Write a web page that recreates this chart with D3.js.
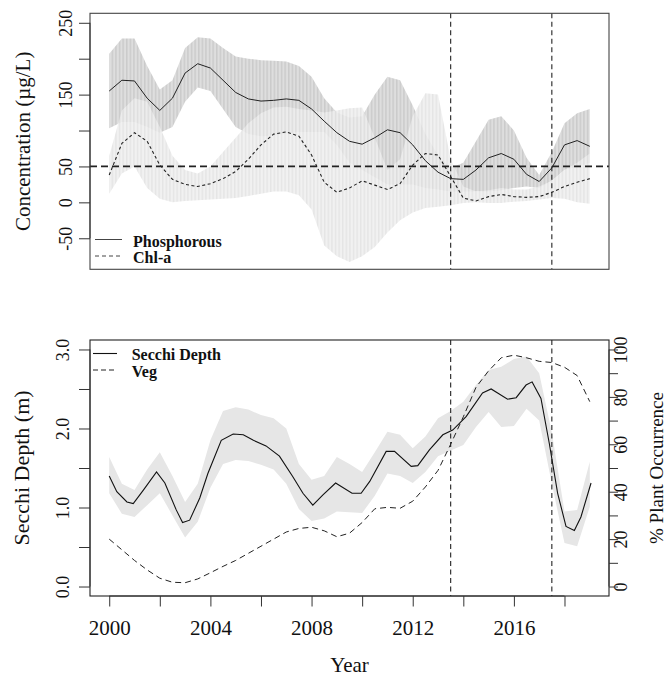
<!DOCTYPE html>
<html><head><meta charset="utf-8">
<script src="https://cdn.jsdelivr.net/npm/d3@7"></script>
<style>
body{margin:0;background:#fff}
svg{display:block}
text{font-family:"Liberation Serif","Times New Roman",serif;fill:#111}
</style>
</head><body>
<svg id="c" width="668" height="678"></svg>
<script>
// ---------- DATA ----------
const years = [2000,2000.5,2001,2001.5,2002,2002.5,2003,2003.5,2004,2004.5,2005,2005.5,2006,2006.5,2007,2007.5,2008,2008.5,2009,2009.5,2010,2010.5,2011,2011.5,2012,2012.5,2013,2013.5,2014,2014.5,2015,2015.5,2016,2016.5,2017,2017.5,2018,2018.5,2019];

const phos   = [155,170,169,145,128,145,180,193,187,170,153,144,141,142,144,142,130,113,97,85,81,90,101,97,80,58,42,33,32,45,62,68,60,39,29,48,80,86,78];
const phosLo = [103,112,112,105,97,105,140,160,155,130,105,95,92,93,96,98,98,98,80,55,45,35,25,25,25,20,18,15,15,15,15,17,20,22,20,30,45,50,55];
const phosHi = [207,228,228,190,157,170,215,230,228,215,203,200,198,197,196,190,175,145,125,118,120,150,175,170,135,95,66,48,55,85,115,120,100,62,38,70,110,124,130];

const chla   = [38,82,97,85,52,32,25,22,26,33,43,60,80,95,98,92,66,28,14,20,30,24,18,26,52,68,66,36,6,2,8,11,8,7,8,14,22,28,33];
const chlaLo = [12,40,50,20,5,0,2,3,4,5,6,9,12,15,15,10,-10,-60,-75,-83,-75,-62,-42,-25,-14,-8,-6,-4,-1,0,-1,-1,1,2,4,6,5,0,-2];
const chlaHi = [65,128,145,140,105,65,45,40,50,70,90,110,124,132,133,130,128,125,128,131,132,90,45,60,120,152,150,60,22,15,17,20,18,18,22,30,45,55,68];

const secchiYears = [2000,2000.3,2000.7,2000.95,2001.35,2001.87,2002.2,2002.65,2002.9,2003.18,2003.58,2003.9,2004.43,2004.9,2005.3,2005.7,2006.2,2006.73,2007.26,2007.66,2008.05,2008.45,2008.95,2009.6,2009.96,2010.3,2010.95,2011.28,2011.94,2012.2,2012.66,2013.19,2013.58,2014.11,2014.76,2015.1,2015.75,2016.09,2016.48,2016.72,2017.07,2017.4,2017.73,2018.06,2018.39,2018.65,2019.05];
const secchi = [1.40,1.20,1.07,1.05,1.22,1.45,1.31,0.97,0.81,0.84,1.12,1.43,1.85,1.93,1.92,1.85,1.78,1.65,1.39,1.18,1.03,1.16,1.31,1.18,1.18,1.33,1.71,1.71,1.52,1.53,1.73,1.92,1.98,2.15,2.45,2.50,2.37,2.39,2.55,2.59,2.38,1.81,1.18,0.76,0.71,0.88,1.31];
const secchiLo = [1.18,0.92,0.88,1.03,1.18,0.90,0.62,0.82,1.25,1.55,1.60,1.59,1.54,1.48,1.30,0.98,0.83,0.86,0.95,0.94,0.93,1.15,1.43,1.40,1.31,1.45,1.65,1.72,1.79,2.02,2.21,2.02,2.03,2.25,2.10,1.30,0.55,0.51,1.01];
const secchiHi = [1.64,1.30,1.22,1.48,1.70,1.40,1.07,1.30,1.85,2.22,2.27,2.24,2.17,2.13,2.00,1.55,1.35,1.40,1.64,1.55,1.45,1.70,1.96,1.92,1.75,1.90,2.13,2.22,2.34,2.55,2.74,2.78,2.88,2.91,2.70,1.95,0.95,0.97,1.58];

const veg = [20,15.5,11,7,3.5,1.8,1.6,3.2,5.8,8.5,11,14,17,20,23,24.5,25,23.5,21,22.5,27,32.8,33.4,33,36,42,49,60,71.6,84,91,96.5,97.6,96.5,95,94.5,92.5,89,78];

const xTicks = [2000,2002,2004,2006,2008,2010,2012,2014,2016,2018];
const xLabels = [2000,2004,2008,2012,2016];
const concTicks = [-50,0,50,100,150,200,250];
const concLabels = [-50,0,50,150,250];
const secchiTicks = [0,0.5,1,1.5,2,2.5,3];
const secchiLabels = [0,1,2,3];
const vegTicks = [0,10,20,30,40,50,60,70,80,90,100];
const vegLabels = [0,20,40,60,80,100];
const refLevel = 50;
const breakYears = [2013.5, 2017.5];

// ---------- LAYOUT ----------
const svg = d3.select("#c");
const L = 90, R = 609;
const top1 = 13.3, bot1 = 269.3;
const top2 = 340, bot2 = 596;

const x = d3.scaleLinear().domain([1999.24, 2019.76]).range([L, R]);
const yC = d3.scaleLinear().domain([-93.2, 263.2]).range([bot1, top1]);
const yS = d3.scaleLinear().domain([-0.12, 3.12]).range([bot2, top2]);
const yV = d3.scaleLinear().domain([-4, 104]).range([bot2, top2]);

const defs = svg.append("defs");
function stripe(id, bg, fg, w) {
  const p = defs.append("pattern").attr("id", id).attr("patternUnits", "userSpaceOnUse")
    .attr("width", 3.6).attr("height", 10);
  p.append("rect").attr("width", 3.6).attr("height", 10).attr("fill", bg);
  p.append("rect").attr("width", w).attr("height", 10).attr("fill", fg);
}
stripe("pP", "#dedede", "#cbcbcb", 1.5);
stripe("pC", "#efefef", "#e0e0e0", 1.4);

const rows = years.map((yr, i) => ({yr, i}));

// ---------- TOP PANEL ----------
const g1 = svg.append("g");
const areaP = d3.area().x(d => x(d.yr)).y0(d => yC(phosLo[d.i])).y1(d => yC(phosHi[d.i]));
const areaC = d3.area().x(d => x(d.yr)).y0(d => yC(chlaLo[d.i])).y1(d => yC(chlaHi[d.i]));
g1.append("path").attr("d", areaP(rows)).attr("fill", "url(#pP)");
g1.append("path").attr("d", areaC(rows)).attr("fill", "url(#pC)").attr("opacity", 0.85);

g1.append("line").attr("x1", L).attr("x2", R).attr("y1", yC(refLevel)).attr("y2", yC(refLevel))
  .attr("stroke", "#222").attr("stroke-width", 1.8).attr("stroke-dasharray", "7,4");

const lineP = d3.line().x(d => x(d.yr)).y(d => yC(phos[d.i]));
const lineC = d3.line().x(d => x(d.yr)).y(d => yC(chla[d.i]));
g1.append("path").attr("d", lineP(rows)).attr("fill", "none").attr("stroke", "#222").attr("stroke-width", 1);
g1.append("path").attr("d", lineC(rows)).attr("fill", "none").attr("stroke", "#222").attr("stroke-width", 1.1).attr("stroke-dasharray", "3,2.5");

breakYears.forEach(b => {
  g1.append("line").attr("x1", x(b)).attr("x2", x(b)).attr("y1", top1).attr("y2", bot1)
    .attr("stroke", "#222").attr("stroke-width", 1.1).attr("stroke-dasharray", "5,3.5");
});
g1.append("rect").attr("x", L).attr("y", top1).attr("width", R - L).attr("height", bot1 - top1)
  .attr("fill", "none").attr("stroke", "#444").attr("stroke-width", 1.1);

// left axis top
const axC = g1.append("g").attr("transform", `translate(${L},0)`)
  .call(d3.axisLeft(yC).tickValues(concTicks).tickSize(11).tickFormat(d => concLabels.includes(d) ? d : ""));
axC.select(".domain").remove();
axC.selectAll(".tick line").attr("stroke", "#333");
axC.selectAll(".tick text").attr("transform", "rotate(-90)").attr("x", 0).attr("y", -18.5).attr("dy", 0)
  .attr("text-anchor", "middle").style("font-size", "18px").style("font-family", "Liberation Serif").style("fill", "#111");
axC.append("line").attr("x1", 0).attr("x2", 0).attr("y1", yC(-50)).attr("y2", yC(250)).attr("stroke", "#333");

svg.append("text").attr("transform", `translate(30,${(top1 + bot1) / 2}) rotate(-90)`)
  .attr("text-anchor", "middle").style("font-size", "21px").text("Concentration (µg/L)");

// legend top
g1.append("line").attr("x1", 95).attr("x2", 122).attr("y1", 239.5).attr("y2", 239.5).attr("stroke", "#444").attr("stroke-width", 1);
g1.append("line").attr("x1", 95).attr("x2", 122).attr("y1", 256).attr("y2", 256).attr("stroke", "#444").attr("stroke-width", 1).attr("stroke-dasharray", "4,3");
g1.append("text").attr("x", 133).attr("y", 246.7).style("font-size", "16px").style("font-weight", "bold").text("Phosphorous");
g1.append("text").attr("x", 133).attr("y", 263.3).style("font-size", "16px").style("font-weight", "bold").text("Chl-a");

// ---------- BOTTOM PANEL ----------
const g2 = svg.append("g");
const areaS = d3.area().x(d => x(d.yr)).y0(d => yS(secchiLo[d.i])).y1(d => yS(secchiHi[d.i]));
g2.append("path").attr("d", areaS(rows)).attr("fill", "#e6e6e6");

const sRows = secchiYears.map((yr, i) => ({yr, v: secchi[i]}));
g2.append("path").attr("d", d3.line().x(d => x(d.yr)).y(d => yS(d.v))(sRows))
  .attr("fill", "none").attr("stroke", "#111").attr("stroke-width", 1.1);
g2.append("path").attr("d", d3.line().x(d => x(d.yr)).y(d => yV(veg[d.i]))(rows))
  .attr("fill", "none").attr("stroke", "#222").attr("stroke-width", 1).attr("stroke-dasharray", "6,4");

breakYears.forEach(b => {
  g2.append("line").attr("x1", x(b)).attr("x2", x(b)).attr("y1", top2).attr("y2", bot2)
    .attr("stroke", "#222").attr("stroke-width", 1.1).attr("stroke-dasharray", "5,3.5");
});
g2.append("rect").attr("x", L).attr("y", top2).attr("width", R - L).attr("height", bot2 - top2)
  .attr("fill", "none").attr("stroke", "#222").attr("stroke-width", 1.1);

// left axis bottom
const axS = g2.append("g").attr("transform", `translate(${L},0)`)
  .call(d3.axisLeft(yS).tickValues(secchiTicks).tickSize(11).tickFormat(d => secchiLabels.includes(d) ? d3.format(".1f")(d) : ""));
axS.select(".domain").remove();
axS.selectAll(".tick line").attr("stroke", "#333");
axS.selectAll(".tick text").attr("transform", "rotate(-90)").attr("x", 0).attr("y", -21.5).attr("dy", 0)
  .attr("text-anchor", "middle").style("font-size", "18px").style("font-family", "Liberation Serif").style("fill", "#111");
axS.append("line").attr("x1", 0).attr("x2", 0).attr("y1", yS(0)).attr("y2", yS(3)).attr("stroke", "#333");

svg.append("text").attr("transform", `translate(29,${(top2 + bot2) / 2}) rotate(-90)`)
  .attr("text-anchor", "middle").style("font-size", "22px").text("Secchi Depth (m)");

// right axis
const axV = g2.append("g").attr("transform", `translate(${R},0)`)
  .call(d3.axisRight(yV).tickValues(vegTicks).tickSize(9).tickFormat(d => vegLabels.includes(d) ? d : ""));
axV.select(".domain").remove();
axV.selectAll(".tick line").attr("stroke", "#333");
axV.selectAll(".tick text").attr("transform", "rotate(-90)").attr("x", 0).attr("y", 17.5).attr("dy", 0)
  .attr("text-anchor", "middle").style("font-size", "18px").style("font-family", "Liberation Serif").style("fill", "#111");
axV.append("line").attr("x1", 0).attr("x2", 0).attr("y1", yV(0)).attr("y2", yV(100)).attr("stroke", "#333");

svg.append("text").attr("transform", `translate(663,${(top2 + bot2) / 2}) rotate(-90)`)
  .attr("text-anchor", "middle").style("font-size", "19px").text("% Plant Occurrence");

// x axis
const axX = g2.append("g").attr("transform", `translate(0,${bot2})`)
  .call(d3.axisBottom(x).tickValues(xTicks).tickSize(10.5).tickFormat(d => xLabels.includes(d) ? d : ""));
axX.select(".domain").remove();
axX.selectAll(".tick line").attr("stroke", "#333");
axX.selectAll(".tick text").attr("y", 39).attr("dy", 0).style("font-size", "21px").style("font-family", "Liberation Serif").style("fill", "#111");
axX.append("line").attr("x1", x(2000)).attr("x2", x(2018)).attr("y1", 0).attr("y2", 0).attr("stroke", "#333");

svg.append("text").attr("x", (L + R) / 2).attr("y", 672).attr("text-anchor", "middle").style("font-size", "21px").text("Year");

// legend bottom
g2.append("line").attr("x1", 93).attr("x2", 117).attr("y1", 353.5).attr("y2", 353.5).attr("stroke", "#111").attr("stroke-width", 1.1);
g2.append("line").attr("x1", 93).attr("x2", 117).attr("y1", 370).attr("y2", 370).attr("stroke", "#222").attr("stroke-width", 1).attr("stroke-dasharray", "5,3");
g2.append("text").attr("x", 131.7).attr("y", 359.5).style("font-size", "16px").style("font-weight", "bold").text("Secchi Depth");
g2.append("text").attr("x", 131.7).attr("y", 377).style("font-size", "16px").style("font-weight", "bold").text("Veg");
</script>
</body></html>
